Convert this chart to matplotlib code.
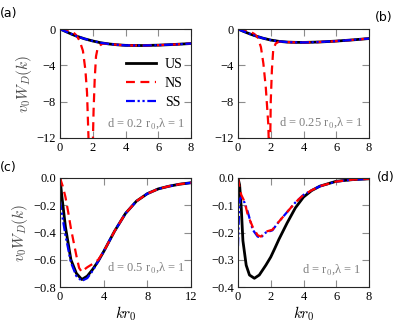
import matplotlib
matplotlib.use('Agg')
import numpy as np
import matplotlib.pyplot as plt

plt.rcParams['font.family'] = 'Liberation Serif'
plt.rcParams['mathtext.fontset'] = 'cm'

# (a) d = 0.2 r0
ka_us = [0, 0.25, 0.5, 0.75, 1.0, 1.5, 2.0, 2.5, 3.0, 3.5, 4.0, 5.0, 6.0, 7.0, 8.0]
wa_us = [0, -0.2, -0.4, -0.6, -0.78, -1.08, -1.32, -1.52, -1.65, -1.74, -1.8, -1.82, -1.78, -1.7, -1.6]
ka_ns = [0, 0.3, 0.6, 0.8, 1.0, 1.2, 1.4, 1.55, 1.65, 1.75, 1.88, 2.0, 2.05, 2.12, 2.2, 2.3, 2.45, 2.6,
         3.0, 3.5, 4.0, 5.0, 6.0, 7.0, 8.0]
wa_ns = [0, -0.15, -0.2, -0.35, -0.7, -1.3, -2.4, -4.5, -7.0, -12.5, -16, -13, -9, -5.5, -3.0, -2.1,
         -1.8, -1.6, -1.65, -1.74, -1.8, -1.82, -1.78, -1.7, -1.6]

# (b) d = 0.25 r0
kb_us = [0, 0.25, 0.5, 0.75, 1.0, 1.5, 2.0, 2.5, 3.0, 3.5, 4.0, 5.0, 6.0, 7.0, 8.0]
wb_us = [0, -0.2, -0.38, -0.56, -0.72, -1.0, -1.22, -1.36, -1.44, -1.47, -1.48, -1.43, -1.33, -1.2, -1.05]
kb_ns = [0, 0.4, 0.7, 1.0, 1.2, 1.4, 1.55, 1.7, 1.85, 1.93, 1.97, 2.0, 2.07, 2.15, 2.3, 2.5,
         3.0, 3.5, 4.0, 5.0, 6.0, 7.0, 8.0]
wb_ns = [0, -0.1, -0.25, -0.55, -0.9, -2.0, -3.8, -6.5, -10.5, -16, -12, -8, -4.5, -2.3, -1.6, -1.4,
         -1.44, -1.47, -1.48, -1.43, -1.33, -1.2, -1.05]

# (c) d = 0.5 r0
kc_us = [0, 0.15, 0.5, 1.0, 1.5, 2.0, 2.5, 3.0, 3.5, 4.0, 5.0, 6.0, 7.0, 8.0, 9.0, 10.0, 11.0, 12.0]
wc_us = [0, -0.12, -0.36, -0.6, -0.7, -0.745, -0.72, -0.67, -0.61, -0.54, -0.39, -0.26, -0.17,
         -0.115, -0.08, -0.06, -0.045, -0.035]
kc_ns = [0, 0.25, 0.5, 0.75, 1.0, 1.25, 1.5, 1.75, 2.0, 2.25, 2.5, 3.0, 3.5, 4.0, 5.0, 6.0, 7.0,
         8.0, 9.0, 10.0, 11.0, 12.0]
wc_ns = [0, -0.06, -0.14, -0.25, -0.37, -0.47, -0.57, -0.66, -0.69, -0.67, -0.655, -0.63, -0.6,
         -0.54, -0.39, -0.26, -0.17, -0.115, -0.08, -0.06, -0.045, -0.035]
kc_ss = [0, 0.25, 0.5, 1.0, 1.5, 2.0, 2.5, 3.0, 3.5, 4.0, 5.0, 6.0, 7.0, 8.0, 9.0, 10.0, 11.0, 12.0]
wc_ss = [-0.17, -0.3, -0.42, -0.62, -0.72, -0.755, -0.735, -0.68, -0.61, -0.54, -0.39, -0.26, -0.17,
         -0.115, -0.08, -0.06, -0.045, -0.035]

# (d) d = r0
kd_us = [0, 0.1, 0.2, 0.3, 0.5, 0.7, 1.0, 1.3, 1.7, 2.0, 2.25, 2.5, 3.0, 3.5, 4.0, 4.5, 5.0, 6.0, 7.0, 8.0]
wd_us = [0, -0.026, -0.11, -0.23, -0.32, -0.356, -0.368, -0.356, -0.32, -0.29, -0.258, -0.225,
         -0.165, -0.11, -0.07, -0.046, -0.03, -0.012, -0.006, -0.003]
kd_ns = [0, 0.1, 0.2, 0.4, 0.6, 0.9, 1.2, 1.4, 1.7, 2.1, 2.5, 3.0, 3.5, 4.0, 4.5, 5.0, 6.0, 7.0, 8.0]
wd_ns = [0, -0.037, -0.062, -0.087, -0.136, -0.18, -0.21, -0.215, -0.197, -0.19, -0.16, -0.125,
         -0.09, -0.062, -0.045, -0.03, -0.013, -0.006, -0.003]
kd_ss = [0, 0.05, 0.1, 0.2, 0.4, 0.6, 0.9, 1.2, 1.4, 1.7, 2.1, 2.5, 3.0, 3.5, 4.0, 4.5, 5.0, 6.0, 7.0, 8.0]
wd_ss = [-0.25, -0.15, -0.08, -0.07, -0.09, -0.125, -0.19, -0.215, -0.218, -0.2, -0.192, -0.16,
         -0.125, -0.09, -0.062, -0.045, -0.03, -0.013, -0.006, -0.003]

fig = plt.figure(figsize=(3.99, 3.29), dpi=100)
W, H = 399, 329


def px_axes(l, t, r, b):
    return fig.add_axes([l / W, 1 - b / H, (r - l) / W, (b - t) / H])


ax_a = px_axes(60, 29, 191, 138)
ax_b = px_axes(238, 29, 369, 138)
ax_c = px_axes(60, 178, 191, 287)
ax_d = px_axes(238, 178, 369, 287)

us_kw = dict(color='black', lw=2.0, label='US')
ns_kw = dict(color='red', lw=1.6, ls=(0, (4, 2.5)), label='NS')
ss_kw = dict(color='blue', lw=1.6, ls=(0, (4, 1.2, 1, 1.2, 1, 1.2)), label='SS')

ax_a.plot(ka_us, wa_us, **us_kw)
ax_a.plot(ka_ns, wa_ns, **ns_kw)
ax_a.plot(ka_us, wa_us, **ss_kw)

ax_b.plot(kb_us, wb_us, **us_kw)
ax_b.plot(kb_ns, wb_ns, **ns_kw)
ax_b.plot(kb_us, wb_us, **ss_kw)

ax_c.plot(kc_us, wc_us, **us_kw)
ax_c.plot(kc_ss, wc_ss, **ss_kw)
ax_c.plot(kc_ns, wc_ns, **ns_kw)

ax_d.plot(kd_us, wd_us, **us_kw)
ax_d.plot(kd_ss, wd_ss, **ss_kw)
ax_d.plot(kd_ns, wd_ns, **ns_kw)

for ax in (ax_a, ax_b):
    ax.set_xlim(0, 8)
    ax.set_ylim(-12, 0)
    ax.set_xticks([0, 2, 4, 6, 8])
    ax.set_yticks([0, -4, -8, -12])
ax_c.set_xlim(0, 12)
ax_c.set_ylim(-0.8, 0)
ax_c.set_xticks([0, 4, 8, 12])
ax_c.set_yticks([0, -0.2, -0.4, -0.6, -0.8])
ax_c.set_yticklabels(['0.0', '\u22120.2', '\u22120.4', '\u22120.6', '\u22120.8'])
ax_d.set_xlim(0, 8)
ax_d.set_ylim(-0.4, 0)
ax_d.set_xticks([0, 2, 4, 6, 8])
ax_d.set_yticks([0, -0.1, -0.2, -0.3, -0.4])
ax_d.set_yticklabels(['0.0', '\u22120.1', '\u22120.2', '\u22120.3', '\u22120.4'])

for ax in (ax_a, ax_b, ax_c, ax_d):
    ax.tick_params(direction='in', top=True, right=True, length=5, width=0.8,
                   color='0.55', labelsize=9, pad=3)
    for s in ax.spines.values():
        s.set_color('0.15')
        s.set_linewidth(0.8)

ax_a.set_ylabel('$v_0W_D(k)$', fontsize=11, color='0.3', labelpad=2)
ax_c.set_ylabel('$v_0W_D(k)$', fontsize=11, color='0.3', labelpad=2)
ax_c.set_xlabel('$kr_0$', fontsize=11, labelpad=1)
ax_d.set_xlabel('$kr_0$', fontsize=11, labelpad=1)

ax_a.legend(loc='center right', bbox_to_anchor=(1.0, 0.5), frameon=False, fontsize=10,
            handlelength=2.2, labelspacing=0.45, borderaxespad=0.2, handletextpad=0.6)

ann = dict(color='0.5', fontsize=9, ha='right', va='center')
ax_a.text(0.955, 0.128, 'd = 0.2 r$_0$,\u03bb = 1', transform=ax_a.transAxes, **ann)
ax_b.text(0.96, 0.14, 'd = 0.25 r$_0$,\u03bb = 1', transform=ax_b.transAxes, **ann)
ax_c.text(0.955, 0.174, 'd = 0.5 r$_0$,\u03bb = 1', transform=ax_c.transAxes, **ann)
ax_d.text(0.94, 0.156, 'd = r$_0$,\u03bb = 1', transform=ax_d.transAxes, **ann)

lab = dict(fontsize=9, family='DejaVu Sans')
fig.text(0.0 / W, 1 - 17 / H, '(a)', **lab)
fig.text(375 / W, 1 - 21 / H, '(b)', **lab)
fig.text(0.0 / W, 1 - 171 / H, '(c)', **lab)
fig.text(377 / W, 1 - 181 / H, '(d)', **lab)

fig.savefig('out.png', dpi=100)
